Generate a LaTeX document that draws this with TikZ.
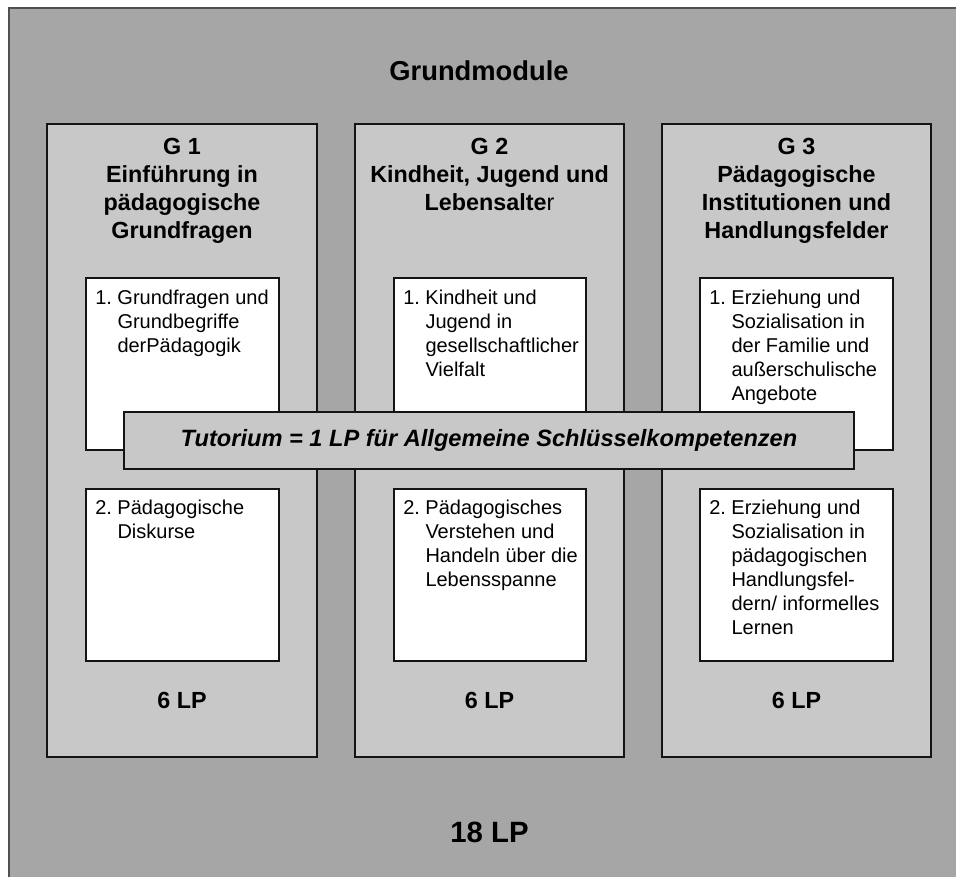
\documentclass[tikz,border=0pt]{standalone}
\usepackage{fontspec}
\setmainfont{Liberation Sans}
\usepackage{tikz}
\usepackage{xcolor}

\begin{document}
\begin{tikzpicture}[x=0.75pt,y=0.75pt,yscale=-1,xscale=1,
  colbox/.style={color={rgb, 255:red, 20; green, 20; blue, 20 }, line width=0.8, fill={rgb, 255:red, 200; green, 200; blue, 200 }},
  itembox/.style={color={rgb, 255:red, 20; green, 20; blue, 20 }, line width=0.8, fill=white},
  head/.style={anchor=north, inner sep=0, align=center, font=\fontsize{17.5}{21}\bfseries},
  item/.style={anchor=north west, inner sep=0, align=left, font=\fontsize{15}{18}\selectfont},
  lp/.style={font=\fontsize{17.5}{21}\bfseries}]
\path [use as bounding box] (0,0) rectangle (956,877);
\clip (0,0) rectangle (956,877);

%Shape: Rectangle [id:outer]
\draw  [color={rgb, 255:red, 80; green, 80; blue, 80 }  ,line width=1.1 ][fill={rgb, 255:red, 166; green, 166; blue, 166 }  ] (9,8) -- (975,8) -- (975,895) -- (9,895) -- cycle ;

%Shape: Rectangle [id:g1]
\draw  [colbox] (47,124) -- (317,124) -- (317,757) -- (47,757) -- cycle ;
%Shape: Rectangle [id:g2]
\draw  [colbox] (355,124) -- (624,124) -- (624,757) -- (355,757) -- cycle ;
%Shape: Rectangle [id:g3]
\draw  [colbox] (662,124) -- (931,124) -- (931,757) -- (662,757) -- cycle ;

%Shape: Rectangle [id:g1a]
\draw  [itembox] (86,278) -- (279,278) -- (279,450) -- (86,450) -- cycle ;
%Shape: Rectangle [id:g2a]
\draw  [itembox] (394,278) -- (586,278) -- (586,450) -- (394,450) -- cycle ;
%Shape: Rectangle [id:g3a]
\draw  [itembox] (700,278) -- (893,278) -- (893,450) -- (700,450) -- cycle ;
%Shape: Rectangle [id:g1b]
\draw  [itembox] (86,489) -- (279,489) -- (279,661) -- (86,661) -- cycle ;
%Shape: Rectangle [id:g2b]
\draw  [itembox] (394,489) -- (586,489) -- (586,661) -- (394,661) -- cycle ;
%Shape: Rectangle [id:g3b]
\draw  [itembox] (700,489) -- (893,489) -- (893,661) -- (700,661) -- cycle ;

%Shape: Rectangle [id:tutorium]
\draw  [colbox] (124,412) -- (854,412) -- (854,469) -- (124,469) -- cycle ;

% Text Node
\draw (479,71) node [font=\fontsize{20.5}{24}\bfseries] (title) {Grundmodule};
% Text Node
\draw (489.5,832.5) node [font=\fontsize{22}{26}\bfseries] (total) {18 LP};

% Text Node
\draw (182,138) node [head] (g1head) {G 1\\Einführung in\\pädagogische\\Grundfragen};
% Text Node
\draw (489.5,138) node [head] (g2head) {G 2\\Kindheit, Jugend und\\Lebensalte{\mdseries r}};
% Text Node
\draw (796.5,138) node [head] (g3head) {G 3\\Pädagogische\\Institutionen und\\Handlungsfelder};

% Text Node
\draw (95,289.5) node [item] (g1atext) {1.\ Grundfragen und\\\hphantom{1.\ }Grundbegriffe\\\hphantom{1.\ }derPädagogik};
% Text Node
\draw (403,289.5) node [item] (g2atext) {1.\ Kindheit und\\\hphantom{1.\ }Jugend in\\\hphantom{1.\ }gesellschaftlicher\\\hphantom{1.\ }Vielfalt};
% Text Node
\draw (709,289.5) node [item] (g3atext) {1.\ Erziehung und\\\hphantom{1.\ }Sozialisation in\\\hphantom{1.\ }der Familie und\\\hphantom{1.\ }außerschulische\\\hphantom{1.\ }Angebote};
% Text Node
\draw (95,499.5) node [item] (g1btext) {2.\ Pädagogische\\\hphantom{2.\ }Diskurse};
% Text Node
\draw (403,499.5) node [item] (g2btext) {2.\ Pädagogisches\\\hphantom{2.\ }Verstehen und\\\hphantom{2.\ }Handeln über die\\\hphantom{2.\ }Lebensspanne};
% Text Node
\draw (709,499.5) node [item] (g3btext) {2.\ Erziehung und\\\hphantom{2.\ }Sozialisation in\\\hphantom{2.\ }pädagogischen\\\hphantom{2.\ }Handlungsfel-\\\hphantom{2.\ }dern/ informelles\\\hphantom{2.\ }Lernen};

% Text Node
\draw (489,440.5) node [font=\fontsize{17.7}{21}\bfseries\itshape] (tuttext) {Tutorium = 1 LP für Allgemeine Schlüsselkompetenzen};

% Text Node
\draw (182,700) node [lp] (g1lp) {6 LP};
% Text Node
\draw (489.5,700) node [lp] (g2lp) {6 LP};
% Text Node
\draw (796.5,700) node [lp] (g3lp) {6 LP};

\end{tikzpicture}
\end{document}
